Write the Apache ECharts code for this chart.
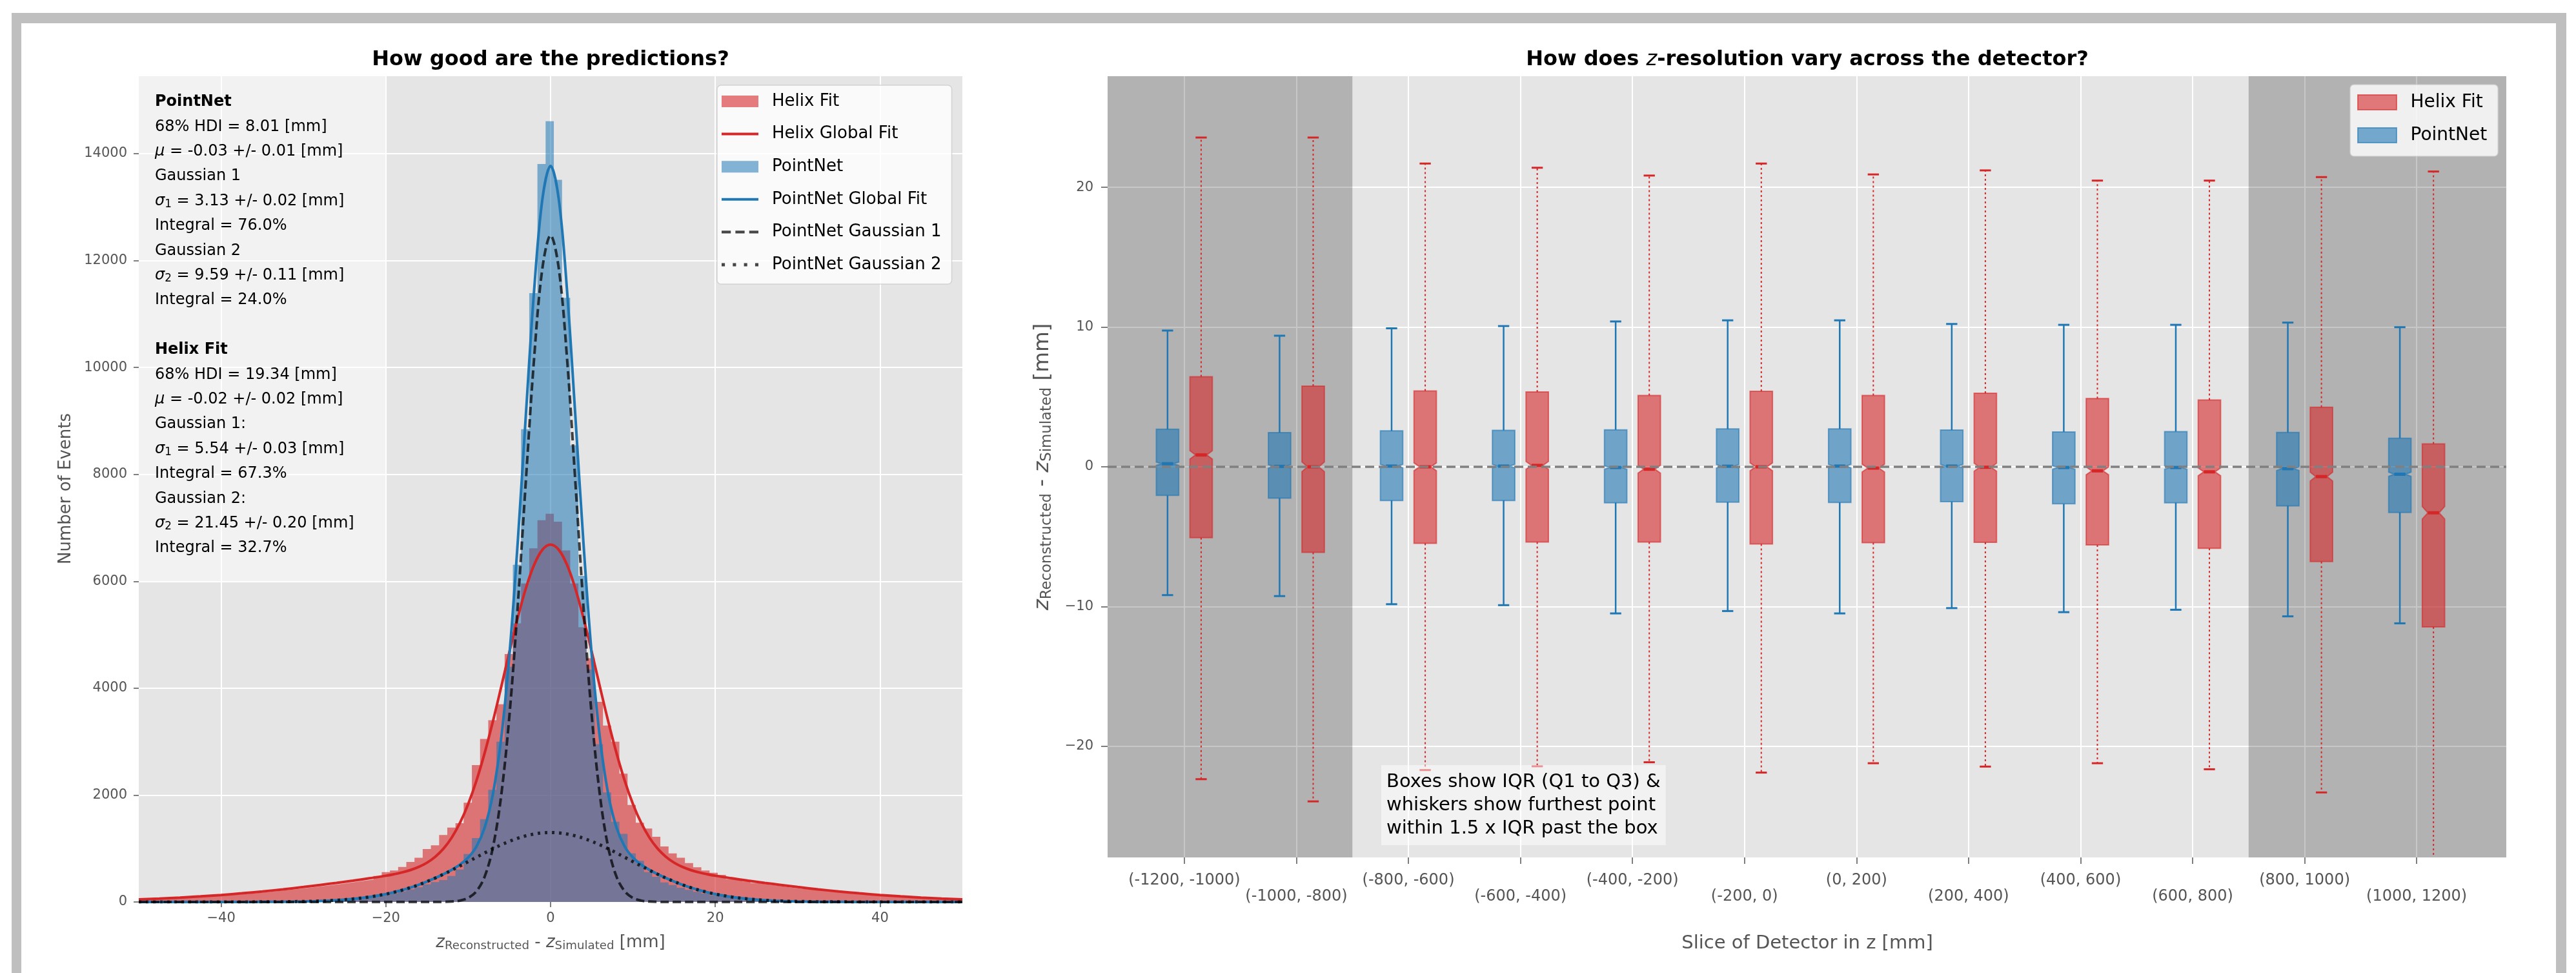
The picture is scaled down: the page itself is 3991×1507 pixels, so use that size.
<!DOCTYPE html>
<html>
<head>
<meta charset="utf-8">
<script src="https://cdn.jsdelivr.net/npm/echarts@6/dist/echarts.min.js"></script>
<style>
html,body{margin:0;padding:0;background:#ffffff;}
#chart{width:3991px;height:1507px;}
</style>
</head>
<body>
<div id="chart"></div>
<script>
// ---------------- DATA ----------------
// Left panel: histogram of z_reco - z_sim (bins of ~1 mm)
const binStart = -50.35;
const binWidth = 0.995;
const helixCounts = [
  46,52,57,63,70,77,86,93,102,113,
  122,133,145,157,170,185,198,214,229,246,
  264,282,300,317,334,355,376,398,420,487,
  560,588,656,749,826,991,1060,1253,1393,1474,
  1857,2560,3050,3400,3700,4640,5212,5958,6618,7142,
  7263,
  7114,6578,5958,5140,4560,3746,3300,3000,2400,1816,
  1483,1374,1220,1039,910,826,729,649,588,548,
  508,430,410,385,352,330,310,290,270,252,
  240,226,210,196,180,168,155,143,132,121,
  112,103,94,86,79,72,65,58,53,47
];
const pointnetCounts = [
  1,1,1,1,1,1,1,1,1,1,
  2,2,2,3,3,4,4,5,7,9,
  11,15,20,26,33,42,54,68,85,105,
  130,160,195,235,275,330,370,410,487,608,
  898,1196,1550,2100,3000,4400,6308,8846,11392,13808,
  14607,
  13510,11303,8544,6100,4350,2950,2050,1500,1273,910,
  770,560,471,366,318,266,228,190,158,128,
  104,84,67,53,42,33,26,20,15,11,
  9,7,5,4,4,3,3,2,2,2,
  1,1,1,1,1,1,1,1,1,1
];
// Fit curves, sampled along z
const fitX = [-50,-47.5,-45,-42.5,-40,-37.5,-35,-32.5,-30,-28,-26,-24,-22,
  -20,-19,-18,-17,-16,-15,-14,-13,-12,-11,-10,-9,-8,-7,-6,-5,-4,-3,-2,-1,0,
  1,2,3,4,5,6,7,8,9,10,11,12,13,14,15,16,17,18,19,20,
  22,24,26,28,30,32.5,35,37.5,40,42.5,45,47.5,50];
const helixFit = [49,64,83,105,131,162,197,236,280,318,357,398,444,
  491,520,554,598,656,735,846,998,1205,1480,1833,2269,2789,3380,4020,4677,5309,5868,6307,6588,6685,
  6588,6307,5868,5309,4677,4020,3380,2789,2269,1833,1480,1205,998,846,735,656,598,554,520,491,
  444,398,357,318,280,236,197,162,131,105,83,64,49];
const pointnetFit = [0,0,0,0,0,1,2,4,10,18,33,57,94,
  148,183,223,270,323,383,448,521,602,699,831,1037,1394,2018,3055,4616,6702,9116,11440,13142,13770,
  13142,11440,9116,6702,4616,3055,2018,1394,1037,831,699,602,521,448,383,323,270,223,183,148,
  94,57,33,18,10,4,2,1,0,0,0,0,0];
const pointnetGauss1 = [0,0,0,0,0,0,0,0,0,0,0,0,0,
  0,0,0,0,0,0,0,2,8,26,76,200,476,1022,1986,3481,5510,7878,10168,11849,12470,
  11849,10168,7878,5510,3481,1986,1022,476,200,76,26,8,2,0,0,0,0,0,0,0,
  0,0,0,0,0,0,0,0,0,0,0,0,0];
const pointnetGauss2 = [0,0,0,0,0,1,2,4,10,18,33,57,94,
  148,183,223,270,323,383,448,519,594,673,755,837,918,996,1069,1135,1192,1238,1272,1293,1300,
  1293,1272,1238,1192,1135,1069,996,918,837,755,673,594,519,448,383,323,270,223,183,148,
  94,57,33,18,10,4,2,1,0,0,0,0,0];
const leftXTicks = [-40,-20,0,20,40];
const leftYTicks = [0,2000,4000,6000,8000,10000,12000,14000];

// Right panel: box statistics per detector slice
const sliceLabels = ['(-1200, -1000)','(-1000, -800)','(-800, -600)','(-600, -400)','(-400, -200)','(-200, 0)',
  '(0, 200)','(200, 400)','(400, 600)','(600, 800)','(800, 1000)','(1000, 1200)'];
const pnWhiskLo = [-9.18,-9.25,-9.83,-9.90,-10.49,-10.32,-10.49,-10.11,-10.40,-10.23,-10.70,-11.20];
const pnQ1      = [-2.05,-2.24,-2.41,-2.41,-2.57,-2.53,-2.55,-2.50,-2.65,-2.57,-2.79,-3.27];
const pnMedian  = [0.22,0.03,0.05,0.05,-0.05,0.04,0.05,0.05,-0.05,-0.05,-0.13,-0.53];
const pnQ3      = [2.69,2.45,2.57,2.61,2.65,2.71,2.71,2.63,2.50,2.52,2.46,2.05];
const pnWhiskHi = [9.75,9.38,9.91,10.07,10.40,10.48,10.48,10.22,10.16,10.16,10.32,9.99];
const pnNotch   = [0.12,0.12,0.12,0.12,0.12,0.12,0.12,0.12,0.12,0.12,0.13,0.15];
const hxWhiskLo = [-22.35,-23.94,-21.70,-21.43,-21.14,-21.88,-21.21,-21.45,-21.21,-21.64,-23.30,-28.50];
const hxQ1      = [-5.07,-6.12,-5.47,-5.38,-5.38,-5.52,-5.43,-5.40,-5.59,-5.83,-6.78,-11.46];
const hxMedian  = [0.85,0.00,0.00,0.10,-0.17,0.00,-0.09,-0.03,-0.29,-0.36,-0.70,-3.29];
const hxQ3      = [6.44,5.78,5.43,5.36,5.10,5.41,5.10,5.27,4.88,4.78,4.26,1.64];
const hxWhiskHi = [23.56,23.56,21.70,21.40,20.84,21.70,20.92,21.21,20.48,20.48,20.73,21.13];
const hxNotch   = [0.30,0.35,0.28,0.28,0.28,0.28,0.28,0.28,0.28,0.28,0.32,0.45];
const rightYTicks = [-20,-10,0,10,20];
const sliceTicks = [0,1,2,3,4,5,6,7,8,9,10,11];
const shadedSlices = [[-0.685,1.5],[9.5,11.8]];

// ---------------- HELPERS ----------------
const FONT = 'DejaVu Sans';
const RED = '#d62728', BLUE = '#1f77b4';
const RED_A = 'rgba(214,39,40,0.6)', BLUE_A = 'rgba(31,119,180,0.6)', BLUE_H = 'rgba(31,119,180,0.55)';
const GAUSS = 'rgba(0,0,0,0.72)';
const fmtMinus = v => (v < 0 ? '\u2212' + Math.abs(v) : String(v));
const ICON_SOLID = 'path://M0,0H57V4H0Z';
const ICON_DASH = 'path://M0,0H14V4H0Z M21,0H35V4H21Z M42,0H56V4H42Z';
const ICON_DOT = 'path://M0,0H5V5H0Z M17,0H22V5H17Z M34,0H39V5H34Z M51,0H56V5H51Z';

function histPoints(counts) {
  const pts = counts.map((c, k) => [binStart + k * binWidth, c]);
  pts.push([binStart + counts.length * binWidth, counts[counts.length - 1]]);
  return pts;
}
const pairs = (xs, ys) => xs.map((x, i) => [x, ys[i]]);

function boxData(lo, q1, med, q3, hi, notch) {
  return sliceTicks.map(i => [i, lo[i], q1[i], med[i], q3[i], hi[i], notch[i]]);
}
function makeBoxRender(offset, color, fill, dotted) {
  return function (params, api) {
    const i = api.value(0);
    const lo = api.value(1), q1 = api.value(2), med = api.value(3), q3 = api.value(4), hi = api.value(5), nh = api.value(6);
    const xc = i + offset;
    const L = api.coord([xc - 0.1, 0])[0], R = api.coord([xc + 0.1, 0])[0];
    const C = api.coord([xc, 0])[0];
    const qL = api.coord([xc - 0.05, 0])[0], qR = api.coord([xc + 0.05, 0])[0];
    const y = v => api.coord([xc, v])[1];
    const poly = [[L, y(q1)], [R, y(q1)], [R, y(med - nh)], [qR, y(med)], [R, y(med + nh)], [R, y(q3)],
      [L, y(q3)], [L, y(med + nh)], [qL, y(med)], [L, y(med - nh)]];
    const ws = dotted ? {stroke: color, lineWidth: 2, lineDash: [3, 4]} : {stroke: color, lineWidth: 2.5};
    return {
      type: 'group',
      children: [
        {type: 'line', shape: {x1: C, y1: y(q3), x2: C, y2: y(hi)}, style: ws},
        {type: 'line', shape: {x1: C, y1: y(q1), x2: C, y2: y(lo)}, style: ws},
        {type: 'line', shape: {x1: qL, y1: y(hi), x2: qR, y2: y(hi)}, style: {stroke: color, lineWidth: 3}},
        {type: 'line', shape: {x1: qL, y1: y(lo), x2: qR, y2: y(lo)}, style: {stroke: color, lineWidth: 3}},
        {type: 'polygon', shape: {points: poly}, style: {fill: fill, stroke: fill, lineWidth: 2}},
        {type: 'line', shape: {x1: qL, y1: y(med), x2: qR, y2: y(med)}, style: {stroke: color, lineWidth: 5}}
      ]
    };
  };
}
function shadeRender(params, api) {
  const p0 = api.coord([api.value(0), 27.95]);
  const p1 = api.coord([api.value(1), -27.95]);
  return {type: 'rect', shape: {x: p0[0], y: p0[1], width: p1[0] - p0[0], height: p1[1] - p0[1]},
    style: {fill: 'rgba(0,0,0,0.22)'}};
}

function statLine(text, y, size) {
  return {
    type: 'text', x: 240, y: y, z: 100,
    style: {
      text: text, fontFamily: FONT, fontSize: size, lineHeight: 34, fill: '#000',
      verticalAlign: 'middle', align: 'left',
      rich: {
        i: {fontStyle: 'italic', fontFamily: FONT, fontSize: size, lineHeight: 34},
        b: {fontWeight: 'bold', fontFamily: FONT, fontSize: size, lineHeight: 34},
        s: {fontFamily: FONT, fontSize: size * 0.7, lineHeight: 24, padding: [10, 0, 0, 0]}
      }
    }
  };
}
const statTexts = [
  '{b|PointNet}', '68% HDI = 8.01 [mm]', '{i|\u03bc} = -0.03 +/- 0.01 [mm]', 'Gaussian 1',
  '{i|\u03c3}{s|1} = 3.13 +/- 0.02 [mm]', 'Integral = 76.0%', 'Gaussian 2',
  '{i|\u03c3}{s|2} = 9.59 +/- 0.11 [mm]', 'Integral = 24.0%', '',
  '{b|Helix Fit}', '68% HDI = 19.34 [mm]', '{i|\u03bc} = -0.02 +/- 0.02 [mm]', 'Gaussian 1:',
  '{i|\u03c3}{s|1} = 5.54 +/- 0.03 [mm]', 'Integral = 67.3%', 'Gaussian 2:',
  '{i|\u03c3}{s|2} = 21.45 +/- 0.20 [mm]', 'Integral = 32.7%'
];
function axisTitle(text, x, y, size, rotate) {
  return {
    type: 'text', x: x, y: y, rotation: rotate ? Math.PI / 2 : 0, z: 100,
    style: {
      text: text, fontFamily: FONT, fontSize: size, lineHeight: size + 10, fill: '#555555',
      align: 'center', verticalAlign: 'middle',
      rich: {
        i: {fontStyle: 'italic', fontFamily: FONT, fontSize: size, lineHeight: size + 10, fill: '#555555'},
        s: {fontFamily: FONT, fontSize: size * 0.7, lineHeight: size * 0.7 + 4, padding: [size * 0.4, 0, 0, 0], fill: '#555555'}
      }
    }
  };
}

const graphics = [
  // figure frame
  {type: 'rect', z: 100, shape: {x: 18, y: 20, width: 3958, height: 16}, style: {fill: '#bfbfbf'}},
  {type: 'rect', z: 100, shape: {x: 18, y: 20, width: 15, height: 1487}, style: {fill: '#bfbfbf'}},
  {type: 'rect', z: 100, shape: {x: 3960, y: 20, width: 16, height: 1487}, style: {fill: '#bfbfbf'}},
  // titles
  {type: 'text', x: 853, y: 93, z: 100, style: {text: 'How good are the predictions?', fontFamily: FONT,
    fontSize: 32, fontWeight: 'bold', fill: '#000', align: 'center', verticalAlign: 'middle'}},
  {type: 'text', x: 2800, y: 93, z: 100, style: {text: '{b|How does }{i|z}{b|-resolution vary across the detector?}',
    fontFamily: FONT, fontSize: 32, fill: '#000', align: 'center', verticalAlign: 'middle',
    rich: {b: {fontWeight: 'bold', fontFamily: FONT, fontSize: 32}, i: {fontStyle: 'italic', fontFamily: FONT, fontSize: 32}}}},
  // axis titles
  axisTitle('{i|z}{s|Reconstructed} - {i|z}{s|Simulated} [mm]', 853, 1460, 26, false),
  axisTitle('Number of Events', 102, 757, 26, true),
  axisTitle('{i|z}{s|Reconstructed} - {i|z}{s|Simulated} [mm]', 1616, 723, 32.5, true),
  axisTitle('Slice of Detector in z [mm]', 2800, 1461, 29, false),
  // annotation
  {type: 'text', x: 2140, y: 1185, z: 100, style: {
    text: 'Boxes show IQR (Q1 to Q3) &\nwhiskers show furthest point\nwithin 1.5 x IQR past the box',
    fontFamily: FONT, fontSize: 29, lineHeight: 36, fill: '#000', align: 'left', verticalAlign: 'top',
    backgroundColor: 'rgba(255,255,255,0.5)', padding: [8, 8, 8, 8]}}
];
statTexts.forEach((t, k) => { if (t) graphics.push(statLine(t, 158 + k * 38.4, 24)); });

const axisCommon = {
  axisLine: {show: false, onZero: false},
  splitLine: {show: true, lineStyle: {color: '#ffffff', width: 2}}
};

const option = {
  animation: false,
  backgroundColor: '#ffffff',
  textStyle: {fontFamily: FONT},
  grid: [
    {left: 215, top: 118, width: 1276, height: 1279, show: true, backgroundColor: '#e5e5e5', borderWidth: 0},
    {left: 1716, top: 118, width: 2167, height: 1210, show: true, backgroundColor: '#e5e5e5', borderWidth: 0}
  ],
  xAxis: [
    Object.assign({}, axisCommon, {
      gridIndex: 0, type: 'value', min: -50, max: 50, minInterval: 20, maxInterval: 20,
      axisTick: {show: true, length: 8, lineStyle: {color: '#555', width: 1.5}, customValues: leftXTicks},
      axisLabel: {customValues: leftXTicks, formatter: fmtMinus, fontSize: 21, lineHeight: 21, color: '#555', margin: 15, fontFamily: FONT}
    }),
    Object.assign({}, axisCommon, {
      gridIndex: 1, type: 'value', min: -0.685, max: 11.8, minInterval: 1, maxInterval: 1,
      axisTick: {show: true, length: 10, lineStyle: {color: '#555', width: 1.5}, customValues: sliceTicks},
      axisLabel: {customValues: sliceTicks, fontSize: 24, lineHeight: 25, color: '#555', margin: 23, fontFamily: FONT,
        formatter: v => {
          const i = Math.round(v);
          if (Math.abs(v - i) > 1e-6 || i < 0 || i >= sliceLabels.length) return '';
          return (i % 2 ? '\n' : '') + sliceLabels[i];
        }}
    })
  ],
  yAxis: [
    Object.assign({}, axisCommon, {
      gridIndex: 0, type: 'value', min: 0, max: 15450, minInterval: 2000, maxInterval: 2000,
      axisTick: {show: true, length: 8, lineStyle: {color: '#555', width: 1.5}, customValues: leftYTicks},
      axisLabel: {customValues: leftYTicks, formatter: v => String(v), fontSize: 21, color: '#555', margin: 18, fontFamily: FONT}
    }),
    Object.assign({}, axisCommon, {
      gridIndex: 1, type: 'value', min: -27.95, max: 27.95, minInterval: 10, maxInterval: 10,
      axisTick: {show: true, length: 10, lineStyle: {color: '#555', width: 1.5}, customValues: rightYTicks},
      axisLabel: {customValues: rightYTicks, formatter: fmtMinus,
        fontSize: 21, color: '#555', margin: 22, fontFamily: FONT}
    })
  ],
  legend: [
    {
      left: 1111, top: 132, orient: 'vertical', selectedMode: false, symbolKeepAspect: true,
      padding: [12, 16, 17, 7], itemWidth: 57, itemHeight: 18, itemGap: 24.6,
      backgroundColor: 'rgba(255,255,255,0.8)', borderColor: 'rgba(204,204,204,0.8)', borderWidth: 1.5, borderRadius: 6,
      textStyle: {fontFamily: FONT, fontSize: 26, lineHeight: 18, color: '#000', padding: [0, 0, 0, 16]},
      data: [
        {name: 'Helix Fit', icon: 'rect', itemStyle: {color: RED_A, borderWidth: 0}},
        {name: 'Helix Global Fit', icon: ICON_SOLID, itemStyle: {color: RED, borderWidth: 0}},
        {name: 'PointNet', icon: 'rect', itemStyle: {color: BLUE_H, borderWidth: 0}},
        {name: 'PointNet Global Fit', icon: ICON_SOLID, itemStyle: {color: BLUE, borderWidth: 0}},
        {name: 'PointNet Gaussian 1', icon: ICON_DASH, itemStyle: {color: GAUSS, borderWidth: 0}},
        {name: 'PointNet Gaussian 2', icon: ICON_DOT, itemStyle: {color: GAUSS, borderWidth: 0}}
      ]
    },
    {
      left: 3641, top: 131, orient: 'vertical', selectedMode: false,
      padding: [13.5, 17, 18.5, 11], itemWidth: 60, itemHeight: 23, itemGap: 23,
      backgroundColor: 'rgba(255,255,255,0.8)', borderColor: 'rgba(204,204,204,0.8)', borderWidth: 1.5, borderRadius: 6,
      textStyle: {fontFamily: FONT, fontSize: 28, lineHeight: 23, color: '#000', padding: [0, 0, 0, 16.5]},
      formatter: name => name.split(' (')[0],
      data: [
        {name: 'Helix Fit (slices)', icon: 'rect', itemStyle: {color: RED_A, borderColor: RED_A, borderWidth: 2}},
        {name: 'PointNet (slices)', icon: 'rect', itemStyle: {color: BLUE_A, borderColor: BLUE_A, borderWidth: 2}}
      ]
    }
  ],
  series: [
    // ----- left panel -----
    {name: 'Helix Fit', type: 'line', xAxisIndex: 0, yAxisIndex: 0, step: 'end', symbol: 'none',
      data: histPoints(helixCounts), lineStyle: {width: 0, opacity: 0}, areaStyle: {color: RED_A, opacity: 1},
      itemStyle: {color: RED_A}, z: 2,
      markArea: {silent: true, itemStyle: {color: 'rgba(255,255,255,0.5)'},
        data: [[{coord: [-50, 6000]}, {coord: [-20, 15450]}]]}},
    {name: 'PointNet', type: 'line', xAxisIndex: 0, yAxisIndex: 0, step: 'end', symbol: 'none',
      data: histPoints(pointnetCounts), lineStyle: {width: 0, opacity: 0}, areaStyle: {color: BLUE_H, opacity: 1},
      itemStyle: {color: BLUE_H}, z: 3},
    {name: 'Helix Global Fit', type: 'line', xAxisIndex: 0, yAxisIndex: 0, smooth: 0.35, symbol: 'none',
      data: pairs(fitX, helixFit), lineStyle: {color: RED, width: 4}, itemStyle: {color: RED}, z: 4},
    {name: 'PointNet Global Fit', type: 'line', xAxisIndex: 0, yAxisIndex: 0, smooth: 0.35, symbol: 'none',
      data: pairs(fitX, pointnetFit), lineStyle: {color: BLUE, width: 4}, itemStyle: {color: BLUE}, z: 5},
    {name: 'PointNet Gaussian 1', type: 'line', xAxisIndex: 0, yAxisIndex: 0, smooth: 0.35, symbol: 'none',
      data: pairs(fitX, pointnetGauss1), lineStyle: {color: GAUSS, width: 4, type: [13, 6]},
      itemStyle: {color: GAUSS}, z: 6},
    {name: 'PointNet Gaussian 2', type: 'line', xAxisIndex: 0, yAxisIndex: 0, smooth: 0.35, symbol: 'none',
      data: pairs(fitX, pointnetGauss2), lineStyle: {color: GAUSS, width: 5, type: [4, 7]},
      itemStyle: {color: GAUSS}, z: 7},
    // ----- right panel -----
    {name: 'shade', type: 'custom', xAxisIndex: 1, yAxisIndex: 1, renderItem: shadeRender, silent: true,
      data: shadedSlices, z: 1},
    {name: 'PointNet (slices)', type: 'custom', xAxisIndex: 1, yAxisIndex: 1, clip: true, silent: true,
      renderItem: makeBoxRender(-0.15, BLUE, BLUE_A, false),
      itemStyle: {color: BLUE_A},
      data: boxData(pnWhiskLo, pnQ1, pnMedian, pnQ3, pnWhiskHi, pnNotch), z: 3},
    {name: 'Helix Fit (slices)', type: 'custom', xAxisIndex: 1, yAxisIndex: 1, clip: true, silent: true,
      renderItem: makeBoxRender(0.15, RED, RED_A, true),
      itemStyle: {color: RED_A},
      data: boxData(hxWhiskLo, hxQ1, hxMedian, hxQ3, hxWhiskHi, hxNotch), z: 3},
    {name: 'zero', type: 'line', xAxisIndex: 1, yAxisIndex: 1, symbol: 'none', silent: true, z: 4,
      data: [], markLine: {silent: true, symbol: 'none', label: {show: false},
        lineStyle: {color: '#808080', width: 3.5, type: [14, 7]}, data: [{yAxis: 0}]}}
  ],
  graphic: {elements: graphics}
};

const chart = echarts.init(document.getElementById('chart'), null, {renderer: 'canvas'});
chart.setOption(option);
</script>
</body>
</html>
